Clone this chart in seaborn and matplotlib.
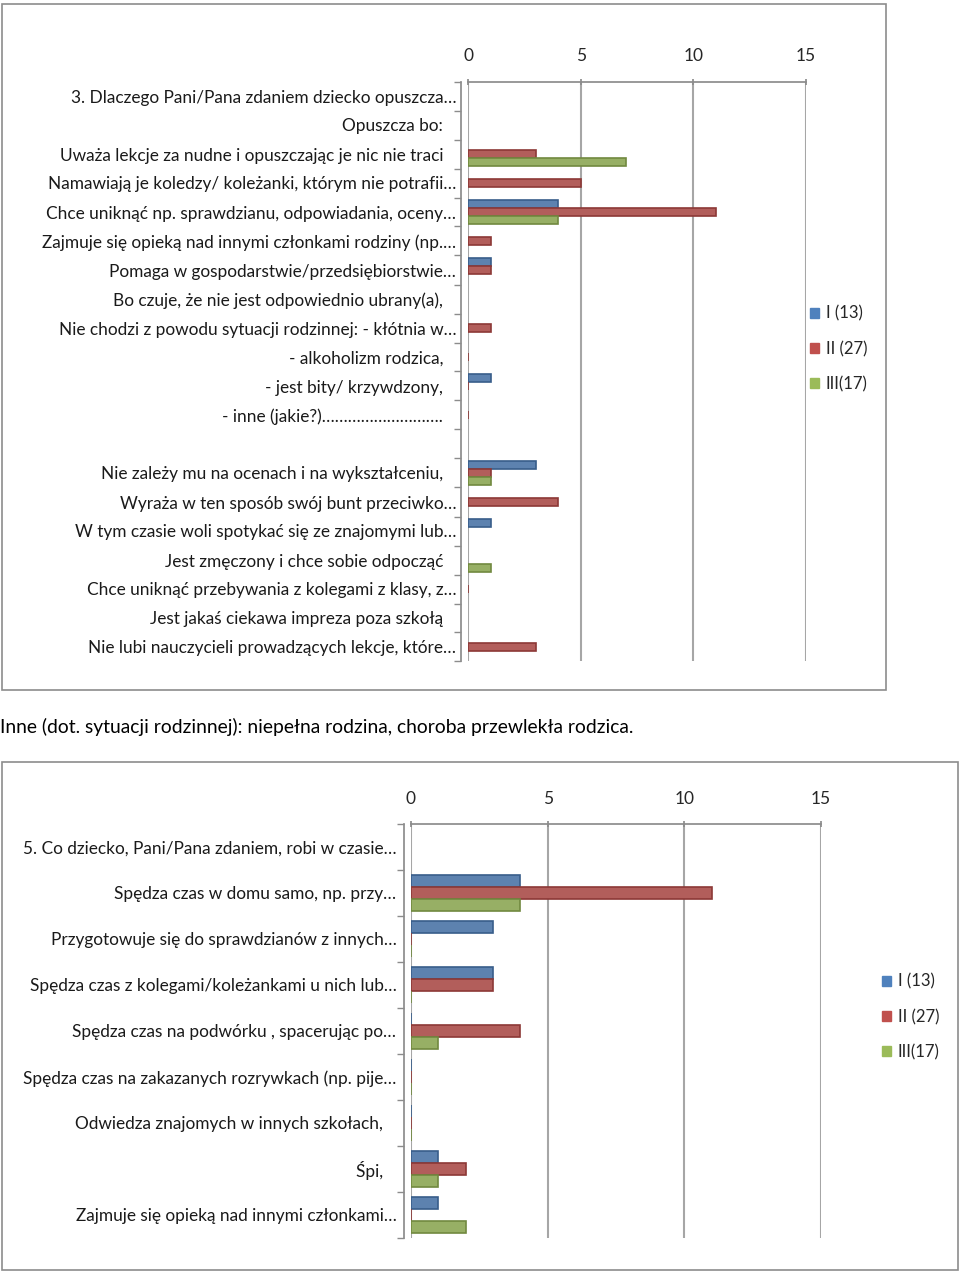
import numpy as np
import pandas as pd
import matplotlib
matplotlib.use('Agg')
import matplotlib.pyplot as plt
import seaborn as sns
from matplotlib.patches import Rectangle, Patch
from matplotlib.ticker import FixedLocator

nan = np.nan

# grupy respondentow i kolory serii
grupy = ['I (13)', 'II (27)', 'III(17)']
kolory = ['#4F81BD', '#C0504D', '#9BBB59']
krawedzie = ['#385D8A', '#8C3836', '#71893F']

# wykres 1 - dlaczego dziecko opuszcza lekcje
pytania1 = [
    '3. Dlaczego Pani/Pana zdaniem dziecko opuszcza…',
    'Opuszcza bo:',
    'Uważa lekcje za nudne i opuszczając je nic nie traci',
    'Namawiają je koledzy/ koleżanki, którym nie potrafii…',
    'Chce uniknąć np. sprawdzianu, odpowiadania, oceny…',
    'Zajmuje się opieką nad innymi członkami rodziny (np.…',
    'Pomaga w gospodarstwie/przedsiębiorstwie…',
    'Bo czuje, że nie jest odpowiednio ubrany(a),',
    'Nie chodzi z powodu sytuacji rodzinnej: - kłótnia w…',
    '- alkoholizm rodzica,',
    '- jest bity/ krzywdzony,',
    '- inne (jakie?)……………………….',
    ' ',
    'Nie zależy mu na ocenach i na wykształceniu,',
    'Wyraża w ten sposób swój bunt przeciwko…',
    'W tym czasie woli spotykać się ze znajomymi lub…',
    'Jest zmęczony i chce sobie odpocząć',
    'Chce uniknąć przebywania z kolegami z klasy, z…',
    'Jest jakaś ciekawa impreza poza szkołą',
    'Nie lubi nauczycieli prowadzących lekcje, które…',
]
w1_I = [nan, nan, nan, nan, 4, nan, 1, nan, nan, nan, 1, nan, nan, 3, nan, 1, nan, nan, nan, nan]
w1_II = [nan, nan, 3, 5, 11, 1, 1, nan, 1, 0, 0, 0, nan, 1, 4, nan, nan, 0, nan, 3]
w1_III = [nan, nan, 7, nan, 4, nan, nan, nan, nan, nan, nan, nan, nan, 1, nan, nan, 1, nan, nan, nan]

# wykres 2 - co dziecko robi w czasie wagarow
pytania2 = [
    '5. Co dziecko, Pani/Pana zdaniem, robi w czasie…',
    'Spędza czas w domu samo, np. przy…',
    'Przygotowuje się do sprawdzianów z innych…',
    'Spędza czas z kolegami/koleżankami u nich lub…',
    'Spędza czas na podwórku , spacerując po…',
    'Spędza czas na zakazanych rozrywkach (np. pije…',
    'Odwiedza znajomych w innych szkołach,',
    'Śpi,',
    'Zajmuje się opieką nad innymi członkami…',
]
w2_I = [nan, 4, 3, 3, 0, 0, 0, 1, 1]
w2_II = [nan, 11, 0, 3, 4, 0, 0, 2, 0]
w2_III = [nan, 4, 0, 0, 1, 0, 0, 1, 2]

opis = 'Inne (dot. sytuacji rodzinnej): niepełna rodzina, choroba przewlekła rodzica.'


def dlugi(pytania, serie):
    wiersze = []
    for g, vals in zip(grupy, serie):
        for p, v in zip(pytania, vals):
            if not np.isnan(v):
                wiersze.append({'pytanie': p, 'grupa': g, 'liczba': v})
    return pd.DataFrame(wiersze)


sns.set_theme(style='white')
plt.rcParams['font.family'] = ['Lato', 'DejaVu Sans']

W, H = 960, 1272
fig = plt.figure(figsize=(W / 100, H / 100), dpi=100)


def wykres(pytania, serie, x0, x15, ytop, ybot, leg_x, leg_y, pad):
    ax = fig.add_axes([x0 / W, 1 - ybot / H, (x15 - x0) / W, (ybot - ytop) / H])
    df = dlugi(pytania, serie)
    etykiety = [p if p.endswith('…') else p + '   ' for p in pytania]
    sns.barplot(data=df, y='pytanie', x='liczba', hue='grupa', order=pytania,
                hue_order=grupy, palette=kolory, orient='h', width=0.8,
                linewidth=1.2, legend=False, ax=ax)
    for cont, kr in zip(ax.containers, krawedzie):
        for b in cont:
            b.set_edgecolor(kr)
    ax.set_xlim(0, 15)
    ax.set_ylim(len(pytania) - 0.5, -0.5)
    ax.set_xlabel('')
    ax.set_ylabel('')
    ax.xaxis.tick_top()
    ax.set_xticks([0, 5, 10, 15])
    ax.tick_params(axis='x', length=5, direction='inout', color='#8C8C8C',
                   labelsize=12.5, labelcolor='#262626', pad=10)
    ax.grid(axis='x', color='#A6A6A6', lw=1.5)
    ax.set_axisbelow(True)
    ax.set_yticks(range(len(pytania)))
    ax.set_yticklabels(etykiety)
    ax.yaxis.set_minor_locator(FixedLocator(np.arange(-0.5, len(pytania), 1)))
    ax.tick_params(axis='y', which='major', length=0, pad=pad,
                   labelsize=12.4, labelcolor='#1a1a1a')
    ax.tick_params(axis='y', which='minor', left=True, length=5, color='#8C8C8C')
    for s in ['right', 'bottom']:
        ax.spines[s].set_visible(False)
    ax.spines['top'].set_color('#8C8C8C')
    ax.spines['left'].set_color('#8C8C8C')
    ax.spines['left'].set_position(('outward', 5))
    uchwyty = [Patch(facecolor=k, edgecolor=k) for k in kolory]
    ax.legend(uchwyty, grupy, loc='center left', bbox_to_anchor=(leg_x / W, 1 - leg_y / H),
              bbox_transform=fig.transFigure, frameon=False, fontsize=12,
              handlelength=0.55, handleheight=0.55, handletextpad=0.4,
              labelspacing=1.15, labelcolor='#262626')
    return ax


wykres(pytania1, [w1_I, w1_II, w1_III], 468, 806, 81.5, 661.5, 795, 349, 3.5)
wykres(pytania2, [w2_I, w2_II, w2_III], 411, 821, 824, 1238, 867, 1017, 5.5)

# ramki wykresow
fig.patches.append(Rectangle((2 / W, 1 - 690 / H), 884 / W, 686 / H, transform=fig.transFigure,
                             fill=False, edgecolor='#8C8C8C', lw=1.2))
fig.patches.append(Rectangle((2 / W, 1 - 1270 / H), 956 / W, 508 / H, transform=fig.transFigure,
                             fill=False, edgecolor='#8C8C8C', lw=1.2))

fig.text(0.0, 1 - 727 / H, opis, ha='left', va='center', fontsize=13.85, color='black')

fig.savefig('out.png', dpi=100)
